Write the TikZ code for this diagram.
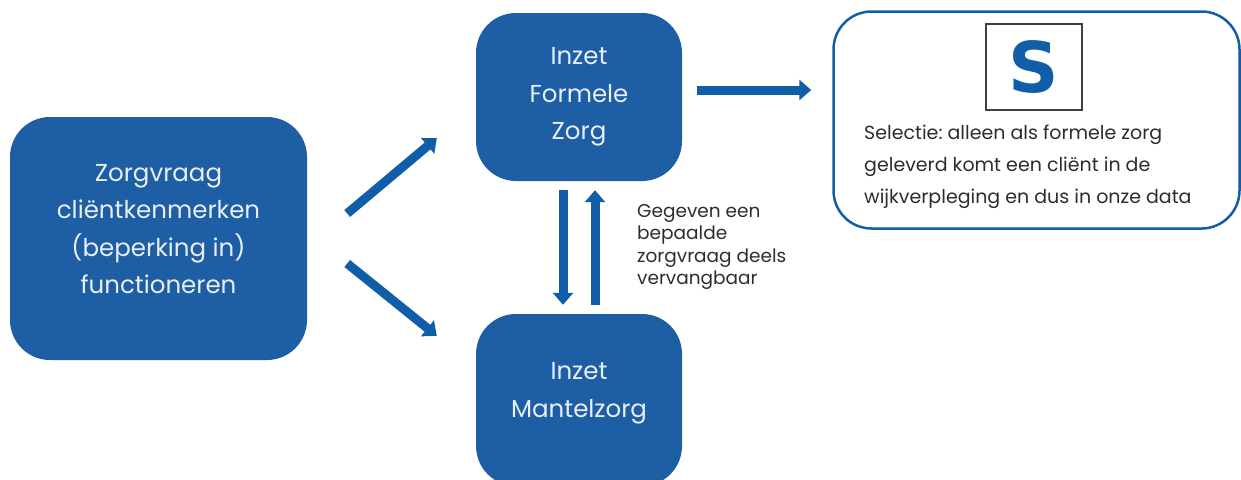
\documentclass[tikz,border=0pt]{standalone}
\usepackage{fontspec}
\setmainfont{Poppins}
\newfontfamily\sfont{DejaVu Sans}
\usetikzlibrary{arrows.meta}
\definecolor{zorgblauw}{RGB}{30,94,164}
\definecolor{pijlblauw}{RGB}{16,94,168}
\definecolor{lichttekst}{RGB}{232,238,246}
\definecolor{grijstekst}{RGB}{45,45,45}

\begin{document}
\begin{tikzpicture}[x=1pt, y=-1pt,
    blok/.style={fill=zorgblauw, rounded corners=40pt, inner sep=0pt, align=center,
        text=lichttekst, font=\fontsize{24.5}{37.5}\selectfont},
    pijl/.style={pijlblauw, line width=9pt, -{Triangle[width=20pt,length=12pt]}},
    uitleg/.style={text=grijstekst, align=left, inner sep=0pt}]
    \useasboundingbox (0, 0) rectangle (1241, 479);
    \node[blok, minimum width=297pt, minimum height=243pt, text depth=19pt] (zorgvraag) at (158.5, 238.5)
        {Zorgvraag\\cliëntkenmerken\\(beperking in)\\functioneren};
    \node[blok, minimum width=206pt, minimum height=168pt] (formele) at (579, 97)
        {Inzet\\Formele\\Zorg};
    \node[blok, minimum width=206pt, minimum height=172pt, text depth=20pt] (mantel) at (579, 400)
        {Inzet\\Mantelzorg};
    \node[draw=pijlblauw, line width=2.5pt, rounded corners=38pt, fill=white,
        minimum width=406pt, minimum height=217pt] (selectie) at (1036.5, 120) {};
    \node[draw=black!75, line width=1.2pt, minimum width=96pt, minimum height=86pt,
        text=pijlblauw, font=\sfont\bfseries\fontsize{70}{70}\selectfont] (s) at (1034, 67) {S};
    \node[uitleg, anchor=north west, font=\fontsize{19}{32}\selectfont] (selectietekst) at (864, 125)
        {Selectie:\ alleen als formele zorg\\geleverd komt een cliënt in de\\wijkverpleging en dus in onze data};
    \node[uitleg, anchor=north west, font=\fontsize{18.5}{22.5}\selectfont] (vervang) at (637, 204)
        {Gegeven een\\bepaalde\\zorgvraag deels\\vervangbaar};
    \draw[pijl] ([xshift=40pt, yshift=25pt]zorgvraag.east) -- ([xshift=-39pt, yshift=43pt]formele.south west);
    \draw[pijl] ([xshift=40pt, yshift=-25pt]zorgvraag.east) -- ([xshift=-39pt, yshift=-22pt]mantel.north west);
    \draw[pijl] ([xshift=15pt, yshift=7pt]formele.east) -- ([xshift=-21pt, yshift=30pt]selectie.west);
    \draw[pijl] ([xshift=-16pt, yshift=-9pt]formele.south) -- ([xshift=-16pt, yshift=9pt]mantel.north);
    \draw[pijl] ([xshift=16pt, yshift=9pt]mantel.north) -- ([xshift=16pt, yshift=-9pt]formele.south);
\end{tikzpicture}
\end{document}
